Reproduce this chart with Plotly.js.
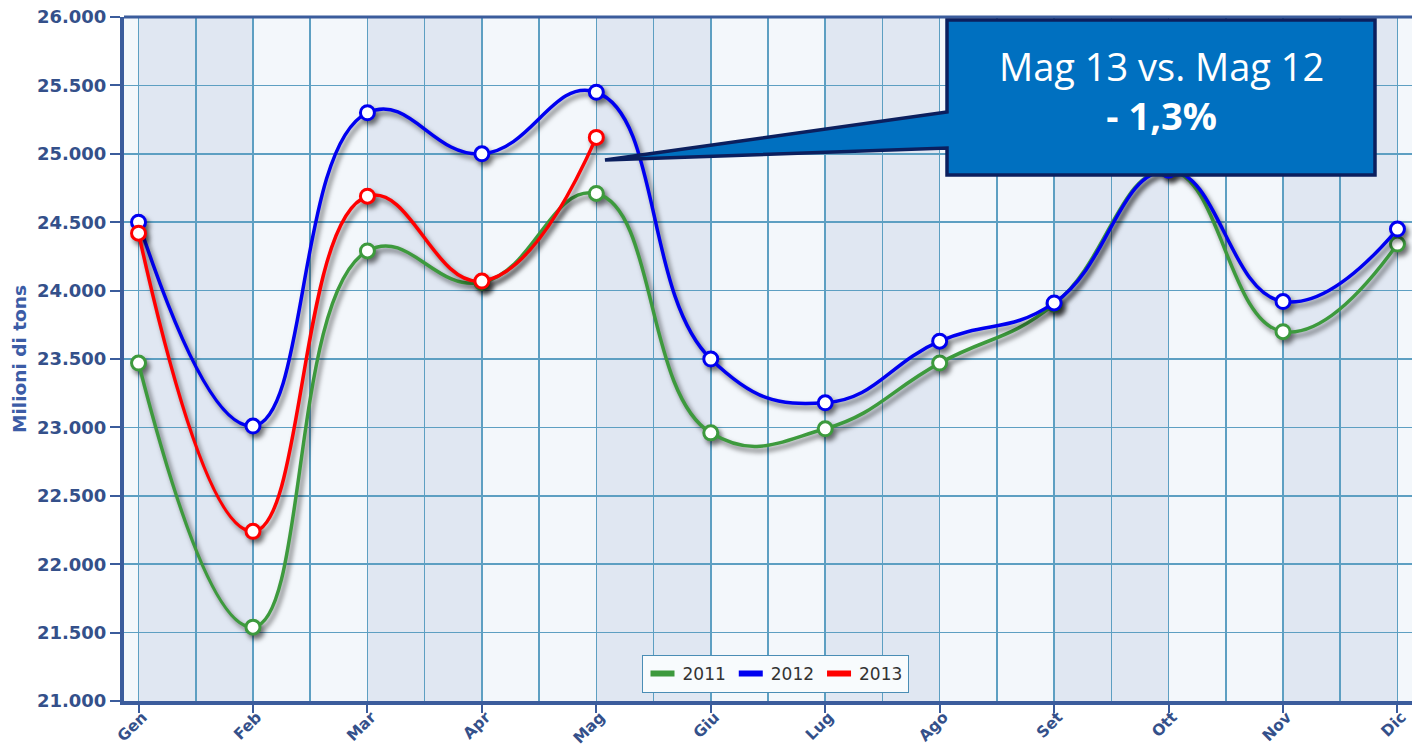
<!DOCTYPE html>
<html>
<head>
<meta charset="utf-8">
<script src="https://cdn.plot.ly/plotly-3.0.1.min.js"></script>
<style>
  html, body { margin: 0; padding: 0; background: #ffffff; }
  #chart { width: 1412px; height: 750px; }
  .scatterlayer .trace { filter: drop-shadow(3px 4px 2.5px rgba(0,0,0,0.55)); }
  .legend .legendpoints .scatterpts { display: none; }
  .legend .legendlines path { stroke-width: 6px !important; d: path("M8,0h24"); }
</style>
</head>
<body>
<div id="chart"></div>
<script>
// ---- data ----
const months = ['Gen','Feb','Mar','Apr','Mag','Giu','Lug','Ago','Set','Ott','Nov','Dic'];
const y2011 = [23470, 21540, 24290, 24060, 24710, 22960, 22990, 23470, 23900, 24880, 23700, 24340];
const y2012 = [24500, 23010, 25300, 25000, 25450, 23500, 23180, 23630, 23910, 24880, 23920, 24450];
const y2013 = [24420, 22240, 24690, 24070, 25120];
const seriesNames = ['2011', '2012', '2013'];
const calloutLine1 = 'Mag 13 vs. Mag 12';
const calloutLine2 = '- 1,3%';
const yTitle = 'Milioni di tons';

// ---- styles ----
const colors = ['#3d9a3d', '#0000f0', '#ff0000'];
const axisColor = '#3b5c9c';
const tickColor = '#34508a';
const gridColor = '#5d9fc2';
const bandDark = '#e0e7f2';
const plotBg = '#f3f7fb';

const W = 1412, H = 750, ML = 124, MR = 0, MT = 17, MB = 49;
const PW = W - ML - MR, PH = H - MT - MB;
const px = x => (x - ML) / PW;
const py = y => (H - MB - y) / PH;

const idx = months.map((m, i) => i);
const all = [y2011, y2012, y2013];

const traces = all.map((ys, k) => ({
  type: 'scatter',
  mode: 'lines+markers',
  name: seriesNames[k],
  x: idx.slice(0, ys.length),
  y: ys,
  line: { color: colors[k], width: 3.5, shape: 'spline', smoothing: 1.3 },
  marker: { size: 14, color: '#ffffff', line: { color: colors[k], width: 3 } },
  hoverinfo: 'skip'
}));

// background bands
const shapes = [];
for (let i = 0; i < months.length - 1; i += 2) {
  shapes.push({ type: 'rect', xref: 'x', yref: 'paper', x0: i, x1: i + 1, y0: 0, y1: 1,
    fillcolor: bandDark, line: { width: 0 }, layer: 'below' });
}
// top border
shapes.push({ type: 'line', xref: 'paper', yref: 'paper', x0: 0, x1: 1, y0: 1, y1: 1,
  line: { color: axisColor, width: 3 }, layer: 'above' });
// callout box
const pts = [[947,20],[1375,20],[1375,175],[947,175],[947,148],[605,160],[947,112]];
const path = 'M ' + pts.map(p => px(p[0]).toFixed(5) + ',' + py(p[1]).toFixed(5)).join(' L ') + ' Z';
shapes.push({ type: 'path', xref: 'paper', yref: 'paper', path: path,
  fillcolor: '#0070c0', line: { color: '#0b1f5e', width: 3.5 }, layer: 'above' });

const layout = {
  width: W, height: H,
  margin: { l: ML, r: MR, t: MT, b: MB, pad: 0 },
  paper_bgcolor: '#ffffff',
  plot_bgcolor: plotBg,
  separators: ',.',
  showlegend: true,
  legend: {
    orientation: 'h',
    x: px(775), xanchor: 'center',
    y: py(693), yanchor: 'bottom',
    bgcolor: '#f8fbfd', bordercolor: '#4a8db5', borderwidth: 1,
    font: { family: 'DejaVu Sans', size: 17, color: '#333333' },
    itemclick: false
  },
  xaxis: {
    type: 'linear',
    range: [-0.127, 11.127],
    tickmode: 'array', tickvals: idx, ticktext: months,
    tickangle: -45,
    tickfont: { family: 'DejaVu Sans', size: 15.5, color: tickColor, weight: 'bold' },
    ticks: 'outside', ticklen: 8, tickwidth: 2, tickcolor: axisColor,
    ticklabelstandoff: -11, ticklabelshift: 4,
    showline: true, linecolor: axisColor, linewidth: 4,
    showgrid: true, gridcolor: gridColor, gridwidth: 1.5,
    minor: { tickmode: 'array', tickvals: idx.slice(0, -1).map(i => i + 0.5),
             showgrid: true, gridcolor: gridColor, gridwidth: 1.5, ticks: '' },
    zeroline: false, fixedrange: true
  },
  yaxis: {
    range: [21000, 26000],
    dtick: 500, tick0: 21000,
    tickformat: ',.0f',
    tickfont: { family: 'DejaVu Sans', size: 18, color: tickColor, weight: 'bold' },
    ticks: 'outside', ticklen: 10, tickwidth: 2, tickcolor: axisColor,
    showline: true, linecolor: axisColor, linewidth: 4,
    showgrid: true, gridcolor: gridColor, gridwidth: 1.5,
    zeroline: false, fixedrange: true,
    title: { text: yTitle, font: { family: 'DejaVu Sans', size: 18.5, color: '#3c5ca6', weight: 'bold' }, standoff: 6 }
  },
  shapes: shapes,
  annotations: [{
    xref: 'paper', yref: 'paper',
    x: px(1161), y: py(90), xanchor: 'center', yanchor: 'middle',
    text: calloutLine1 + '<br><b>' + calloutLine2 + '</b>',
    showarrow: false, align: 'center',
    font: { family: 'Open Sans', size: 38, color: '#ffffff' }
  }]
};

Plotly.newPlot('chart', traces, layout, { staticPlot: true, displayModeBar: false });
</script>
</body>
</html>
